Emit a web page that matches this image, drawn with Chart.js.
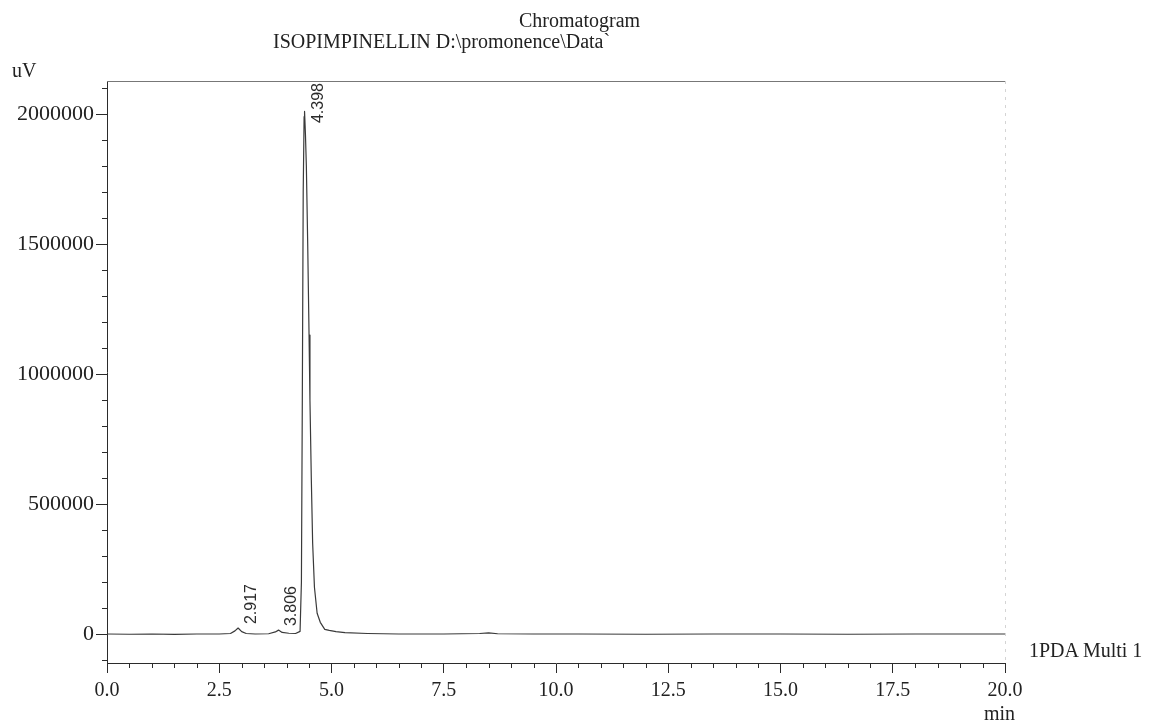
<!DOCTYPE html>
<html>
<head>
<meta charset="utf-8">
<title>Chromatogram</title>
<script src="https://cdn.jsdelivr.net/npm/chart.js@4.4.1/dist/chart.umd.min.js"></script>
<style>
  html, body { margin: 0; padding: 0; background: #fff; }
  #wrap { position: relative; width: 1152px; height: 721px; }
  .lbl { position: absolute; font-family: "Liberation Serif", serif; font-size: 20px;
         line-height: 20px; color: #222; white-space: nowrap; }
</style>
</head>
<body>
<div id="wrap">
  <canvas id="chromChart"></canvas>
  <div class="lbl" style="left:519px; top:10px;">Chromatogram</div>
  <div class="lbl" style="left:273px; top:31px;">ISOPIMPINELLIN D:\promonence\Data`</div>
  <div class="lbl" style="left:12px; top:60px;">uV</div>
  <div class="lbl" style="left:1029px; top:640px;">1PDA Multi 1</div>
  <div class="lbl" style="left:984px; top:703px;">min</div>
</div>
<script>
// retention time (min) and detector signal (uV)
const timeMin = [0.0, 0.5, 1.0, 1.5, 2.0, 2.5, 2.75, 2.85, 2.92, 3.0, 3.1, 3.3, 3.6, 3.75, 3.82, 3.9,
  4.05, 4.2, 4.3, 4.33, 4.35, 4.37, 4.39, 4.40, 4.42, 4.44, 4.47, 4.50, 4.52, 4.55, 4.58,
  4.62, 4.68, 4.75, 4.85, 4.95, 5.1, 5.3, 5.8, 6.5, 7.5, 8.3, 8.5, 8.7, 9.5, 10.5, 12.0,
  13.5, 15.0, 16.5, 18.0, 19.0, 20.0];
const signalUV = [0, -1000, 0, -1500, 0, 0, 2000, 12000, 23000, 9000, 2000, 0, 1000, 8000, 15000, 6000,
  3000, 2000, 10000, 200000, 900000, 1700000, 1990000, 2010000, 1920000, 1800000, 1500000, 1150000, 900000, 600000, 350000,
  180000, 80000, 45000, 18000, 14000, 9000, 5000, 2000, 0, 0, 2000, 4000, 1000, 0, 0, -1000,
  0, 0, -1000, 0, 0, 0];

// annotated peaks
const peakTimes = [2.917, 3.806, 4.398];
const peakHeights = [23000, 15000, 2010000];
const peakLabels = ['2.917', '3.806', '4.398'];

// axis ticks
const xMajorTicks = [0, 2.5, 5, 7.5, 10, 12.5, 15, 17.5, 20];
const xMinorTicks = [0.5, 1, 1.5, 2, 3, 3.5, 4, 4.5, 5.5, 6, 6.5, 7, 8, 8.5, 9, 9.5, 10.5, 11, 11.5, 12,
  13, 13.5, 14, 14.5, 15.5, 16, 16.5, 17, 18, 18.5, 19, 19.5];
const yMajorTicks = [0, 500000, 1000000, 1500000, 2000000];
const yMinorTicks = [-100000, 100000, 200000, 300000, 400000, 600000, 700000, 800000, 900000,
  1100000, 1200000, 1300000, 1400000, 1600000, 1700000, 1800000, 1900000, 2100000];

const INK = '#2b2b2b';

// minor ticks, frame and peak labels
const extrasPlugin = {
  id: 'extras',
  afterDraw(chart) {
    const { ctx, chartArea: a, scales: { x, y } } = chart;
    ctx.save();
    ctx.strokeStyle = INK;
    ctx.lineWidth = 1;
    ctx.beginPath();
    xMinorTicks.forEach(v => {
      const px = Math.round(x.getPixelForValue(v)) + 0.5;
      ctx.moveTo(px, a.bottom); ctx.lineTo(px, a.bottom + 5);
    });
    yMinorTicks.forEach(v => {
      const py = Math.round(y.getPixelForValue(v)) + 0.5;
      ctx.moveTo(a.left - 5, py); ctx.lineTo(a.left, py);
    });
    ctx.stroke();

    // top + right frame (faint in the print)
    ctx.strokeStyle = '#777';
    ctx.beginPath();
    ctx.moveTo(a.left, a.top + 0.5); ctx.lineTo(a.right, a.top + 0.5);
    ctx.stroke();
    ctx.strokeStyle = '#d4d4d4';
    ctx.setLineDash([3, 5]);
    ctx.beginPath();
    ctx.moveTo(a.right + 0.5, a.top); ctx.lineTo(a.right + 0.5, a.bottom);
    ctx.stroke();
    ctx.setLineDash([]);

    // rotated retention-time labels
    ctx.fillStyle = INK;
    ctx.font = '16px "Liberation Sans", Arial, sans-serif';
    ctx.textBaseline = 'middle';
    ctx.textAlign = 'left';
    peakTimes.forEach((t, i) => {
      const px = x.getPixelForValue(t) + 14;
      const w = ctx.measureText(peakLabels[i]).width;
      let start = y.getPixelForValue(peakHeights[i]) - 4;
      if (start - w < a.top + 2) start = a.top + 2 + w;
      ctx.save();
      ctx.translate(px, start);
      ctx.rotate(-Math.PI / 2);
      ctx.fillText(peakLabels[i], 0, 0);
      ctx.restore();
    });
    ctx.restore();
  }
};

new Chart(document.getElementById('chromChart'), {
  type: 'line',
  data: {
    datasets: [{
      label: '1PDA Multi 1',
      data: timeMin.map((t, i) => ({ x: t, y: signalUV[i] })),
      borderColor: '#3a3a3a',
      borderWidth: 1.2,
      borderJoinStyle: 'round',
      pointRadius: 0,
      tension: 0,
      fill: false
    }]
  },
  options: {
    responsive: true,
    maintainAspectRatio: false,
    animation: false,
    layout: { padding: { top: 81, right: 147, bottom: 18, left: 0 } },
    plugins: {
      legend: { display: false },
      title: { display: false },
      tooltip: { enabled: false }
    },
    scales: {
      x: {
        type: 'linear',
        min: 0,
        max: 20,
        afterBuildTicks: s => { s.ticks = xMajorTicks.map(v => ({ value: v })); },
        afterFit: s => { s.height = 40; },
        ticks: {
          color: '#222',
          font: { family: '"Liberation Serif", serif', size: 20 },
          padding: 6,
          maxRotation: 0,
          autoSkip: false,
          callback: v => Number(v).toFixed(1)
        },
        grid: { drawOnChartArea: false, drawTicks: true, tickLength: 10, color: INK },
        border: { display: true, color: INK, width: 1 }
      },
      y: {
        type: 'linear',
        min: -111500,
        max: 2127000,
        afterBuildTicks: s => { s.ticks = yMajorTicks.map(v => ({ value: v })); },
        afterFit: s => { s.width = 107; },
        ticks: {
          color: '#222',
          font: { family: '"Liberation Serif", serif', size: 22 },
          padding: 2,
          autoSkip: false,
          callback: v => String(v)
        },
        grid: { drawOnChartArea: false, drawTicks: true, tickLength: 11, color: INK },
        border: { display: true, color: INK, width: 1 }
      }
    }
  },
  plugins: [extrasPlugin]
});
</script>
</body>
</html>
